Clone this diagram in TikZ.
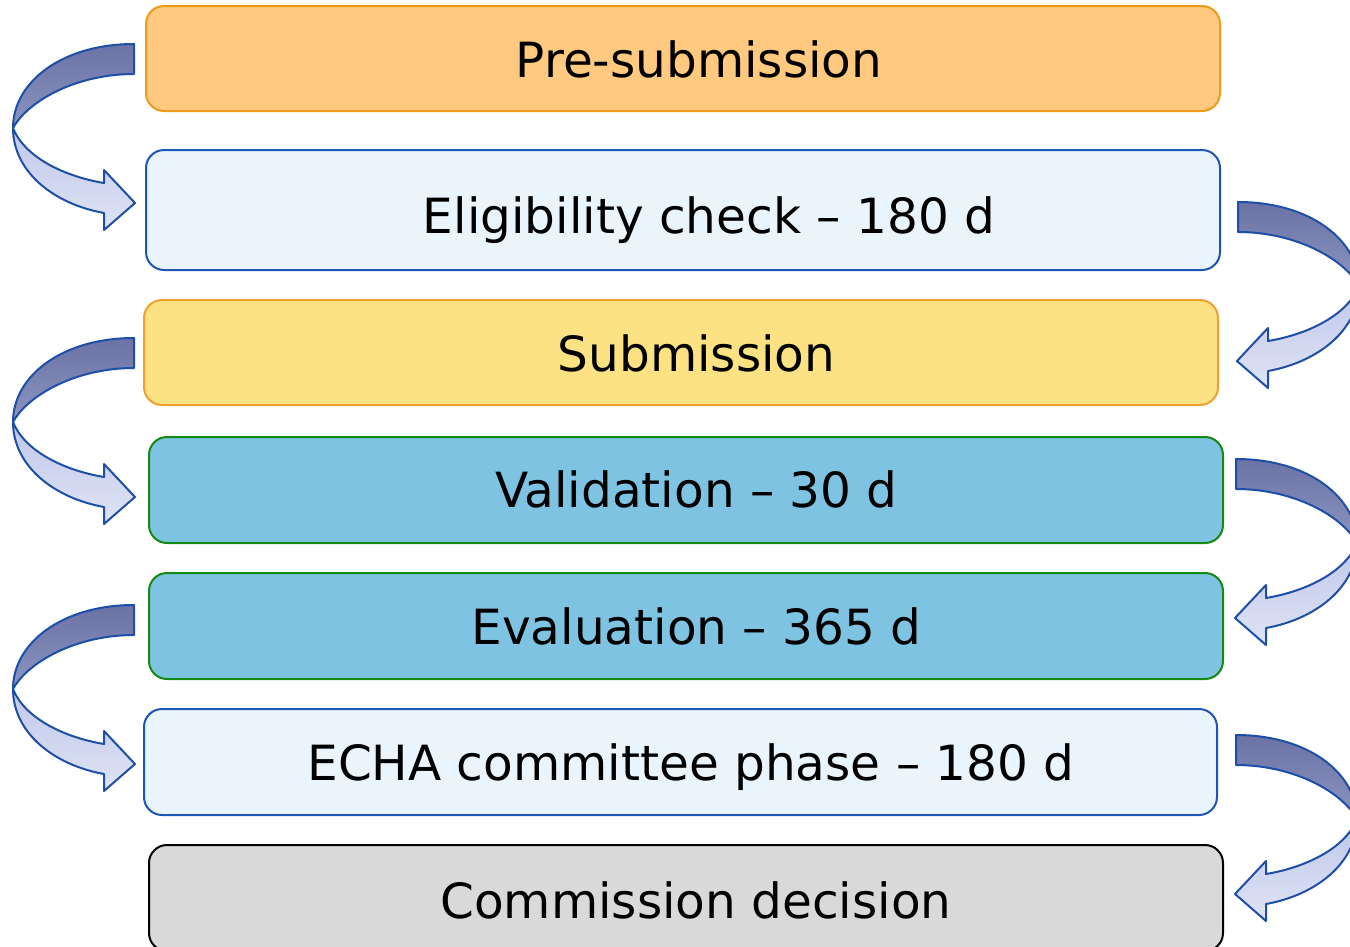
\documentclass[tikz,border=0pt]{standalone}
\usepackage{fontspec}
\setmainfont{DejaVu Sans}
\definecolor{orfill}{HTML}{FFCA7F}
\definecolor{ordraw}{HTML}{EE9A1A}
\definecolor{yefill}{HTML}{FDE283}
\definecolor{yedraw}{HTML}{F0A030}
\definecolor{pbfill}{HTML}{EAF4FC}
\definecolor{pbdraw}{HTML}{1F55B5}
\definecolor{bufill}{HTML}{7FC3E3}
\definecolor{grdraw}{HTML}{138A13}
\definecolor{gyfill}{HTML}{D9D9D9}
\definecolor{arrdraw}{HTML}{1E4FA6}
\definecolor{darktop}{HTML}{6B73A6}
\definecolor{darkbot}{HTML}{8C94C0}
\definecolor{lighttop}{HTML}{C0C8EA}
\definecolor{lightbot}{HTML}{DFE3F4}
\tikzset{
  stagebox/.style={draw, line width=2pt, rounded corners=18pt, minimum width=1074pt, minimum height=105pt, inner sep=0pt},
  stagetext/.style={anchor=base, inner sep=0pt, font=\fontsize{48.5}{58}\selectfont},
  arrline/.style={draw=arrdraw, line width=2pt, line join=round},
  carr/.pic={
    \path[arrline, top color=darktop, bottom color=darkbot]
      (0,0) .. controls (-72,0) and (-121,38) .. (-121,84)
      .. controls (-106,57) and (-58,30) .. (0,30) -- cycle;
    \path[arrline, top color=lighttop, bottom color=lightbot]
      (-121,84) .. controls (-121,128) and (-80,160) .. (-30,169)
      -- (-30,186) -- (1,159) -- (-30,126) -- (-30,139)
      .. controls (-72,132) and (-110,112) .. (-121,84) -- cycle;
  }
}
\begin{document}
\begin{tikzpicture}[x=1pt, y=-1pt]
\clip (0,0) rectangle (1350,946);
\fill[white] (0,0) rectangle (1350,946);

\node[stagebox, fill=orfill, draw=ordraw] (b1) at (683,58.5) {};
\node[stagebox, fill=pbfill, draw=pbdraw, minimum height=120pt] (b2) at (683,210) {};
\node[stagebox, fill=yefill, draw=yedraw] (b3) at (681,352.5) {};
\node[stagebox, fill=bufill, draw=grdraw, minimum height=106pt] (b4) at (686,490) {};
\node[stagebox, fill=bufill, draw=grdraw, minimum height=106pt] (b5) at (686,626) {};
\node[stagebox, fill=pbfill, draw=pbdraw, minimum height=106pt, minimum width=1073pt] (b6) at (680.5,762) {};
\node[stagebox, fill=gyfill, draw=black, minimum height=106pt] (b7) at (686,898) {};

\node[stagetext] (t1) at (699,77) {Pre-submission};
\node[stagetext] (t2) at (709,233) {Eligibility check – 180 d};
\node[stagetext] (t3) at (696.5,371) {Submission};
\node[stagetext] (t4) at (696.5,507) {Validation – 30 d};
\node[stagetext] (t5) at (696.5,644) {Evaluation – 365 d};
\node[stagetext] (t6) at (691,780) {ECHA committee phase – 180 d};
\node[stagetext] (t7) at (696,918) {Commission decision};

\pic at (134,44) {carr};
\pic at (134,338) {carr};
\pic at (134,605) {carr};
\pic[xscale=-1] at (1238,202) {carr};
\pic[xscale=-1] at (1236,459) {carr};
\pic[xscale=-1] at (1236,735) {carr};
\end{tikzpicture}
\end{document}
